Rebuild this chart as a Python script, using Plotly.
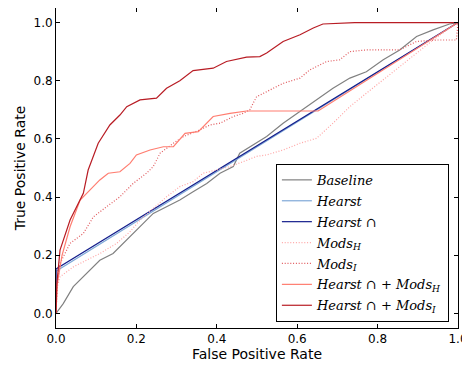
import plotly.graph_objects as go

# ---- data ----
baseline_x = [0, 0.018, 0.043, 0.076, 0.109, 0.142, 0.176, 0.209, 0.242, 0.275, 0.308, 0.341, 0.375, 0.408, 0.441, 0.457,
              0.482, 0.524, 0.565, 0.607, 0.648, 0.689, 0.731, 0.772, 0.814, 0.855, 0.897, 0.938, 0.979, 1.0]
baseline_y = [0, 0.034, 0.092, 0.138, 0.183, 0.206, 0.252, 0.298, 0.344, 0.367, 0.39, 0.418, 0.447, 0.482, 0.505, 0.551,
              0.573, 0.608, 0.654, 0.694, 0.734, 0.774, 0.809, 0.831, 0.872, 0.906, 0.952, 0.975, 0.995, 1.0]

hearst_x = [0, 0, 1.0]
hearst_y = [0, 0.145, 1.0]

hearst_cap_x = [0, 0, 1.0]
hearst_cap_y = [0, 0.153, 1.0]

modsH_x = [0, 0.003, 0.01, 0.043, 0.076, 0.109, 0.151, 0.184, 0.209, 0.242, 0.275, 0.308, 0.341, 0.366, 0.4, 0.433, 0.466,
           0.499, 0.524, 0.565, 0.607, 0.648, 0.689, 0.731, 0.772, 0.814, 0.855, 0.897, 0.938, 0.979, 1.0]
modsH_y = [0, 0.09, 0.126, 0.16, 0.183, 0.206, 0.241, 0.281, 0.321, 0.361, 0.401, 0.436, 0.453, 0.482, 0.493, 0.505, 0.522,
           0.54, 0.545, 0.562, 0.585, 0.602, 0.654, 0.711, 0.757, 0.803, 0.849, 0.895, 0.94, 0.981, 1.0]

modsI_x = [0, 0.003, 0.01, 0.035, 0.068, 0.093, 0.126, 0.159, 0.192, 0.225, 0.242, 0.259, 0.292, 0.317, 0.358, 0.383, 0.408,
           0.441, 0.466, 0.482, 0.499, 0.532, 0.565, 0.607, 0.631, 0.673, 0.706, 0.731, 0.772, 0.855, 0.897, 0.946, 0.996, 1.0]
modsI_y = [0, 0.1, 0.172, 0.241, 0.275, 0.332, 0.367, 0.401, 0.447, 0.482, 0.505, 0.551, 0.585, 0.608, 0.631, 0.648, 0.654,
           0.677, 0.688, 0.70, 0.745, 0.768, 0.791, 0.809, 0.837, 0.866, 0.872, 0.90, 0.906, 0.906, 0.935, 0.94, 0.94, 1.0]

hcapH_x = [0, 0.003, 0.015, 0.035, 0.06, 0.085, 0.109, 0.13, 0.159, 0.184, 0.2, 0.234, 0.267, 0.292, 0.321, 0.354, 0.375,
           0.391, 0.433, 0.474, 0.507, 0.652, 1.0]
hcapH_y = [0, 0.1, 0.2, 0.298, 0.39, 0.424, 0.459, 0.482, 0.487, 0.516, 0.545, 0.562, 0.573, 0.573, 0.619, 0.625, 0.654,
           0.677, 0.688, 0.696, 0.696, 0.696, 1.0]

hcapI_x = [0, 0.002, 0.01, 0.035, 0.068, 0.08, 0.105, 0.134, 0.159, 0.176, 0.209, 0.25, 0.275, 0.308, 0.341, 0.391, 0.424,
           0.474, 0.507, 0.524, 0.565, 0.607, 0.64, 0.664, 0.743, 1.0]
hcapI_y = [0, 0.1, 0.218, 0.321, 0.413, 0.493, 0.585, 0.648, 0.682, 0.711, 0.734, 0.74, 0.774, 0.80, 0.835, 0.843, 0.866,
           0.881, 0.883, 0.895, 0.935, 0.958, 0.981, 0.995, 1.0, 1.0]

tick_vals = [0, 0.2, 0.4, 0.6, 0.8, 1.0]
tick_text = ["0.0", "0.2", "0.4", "0.6", "0.8", "1.0"]

series = [
    ("<i>Baseline</i>", baseline_x, baseline_y, "#808080", "solid"),
    ("<i>Hearst</i>", hearst_x, hearst_y, "#7fa9d8", "solid"),
    ("<i>Hearst</i> ∩", hearst_cap_x, hearst_cap_y, "#141e8c", "solid"),
    ("<i>Mods<sub>H</sub></i>", modsH_x, modsH_y, "#ffa6a6", "1px,1.8px"),
    ("<i>Mods<sub>I</sub></i>", modsI_x, modsI_y, "#e0585c", "1px,1.8px"),
    ("<i>Hearst</i> ∩ + <i>Mods<sub>H</sub></i>", hcapH_x, hcapH_y, "#ff7d70", "solid"),
    ("<i>Hearst</i> ∩ + <i>Mods<sub>I</sub></i>", hcapI_x, hcapI_y, "#b81c24", "solid"),
]

fig = go.Figure()
for i, (name, xs, ys, col, dash) in enumerate(series):
    fig.add_trace(go.Scatter(x=xs, y=ys, mode="lines", name=name, legendgroup=f"g{i}",
                             line=dict(color=col, width=1.2, dash=dash)))

axis_common = dict(showline=True, linecolor="black", linewidth=1, mirror="ticks",
                   ticks="inside", ticklen=4, tickcolor="black", showgrid=False, zeroline=False,
                   automargin=False,
                   tickfont=dict(family="DejaVu Sans", size=12, color="black"))

# page body has an 8px margin, so the figure is sized to fit the 470x367 window
fig.update_layout(
    width=462, height=359,
    margin=dict(l=48, r=12, t=0, b=39),
    paper_bgcolor="white", plot_bgcolor="white",
    xaxis=dict(range=[0, 1], tickvals=tick_vals, ticktext=tick_text,
               title=dict(text="False Positive Rate", font=dict(family="DejaVu Sans", size=14, color="black"), standoff=2),
               **axis_common),
    yaxis=dict(range=[-0.05, 1.05], tickvals=tick_vals, ticktext=tick_text,
               title=dict(text="True Positive Rate", font=dict(family="DejaVu Sans", size=14, color="black"), standoff=4),
               **axis_common),
    legend=dict(x=0.547, y=0.019, xanchor="left", yanchor="bottom",
                bordercolor="black", borderwidth=1, bgcolor="white",
                font=dict(family="DejaVu Serif", size=13, color="black"),
                tracegroupgap=1, itemwidth=30),
    showlegend=True,
)

fig.write_html("out.html")
